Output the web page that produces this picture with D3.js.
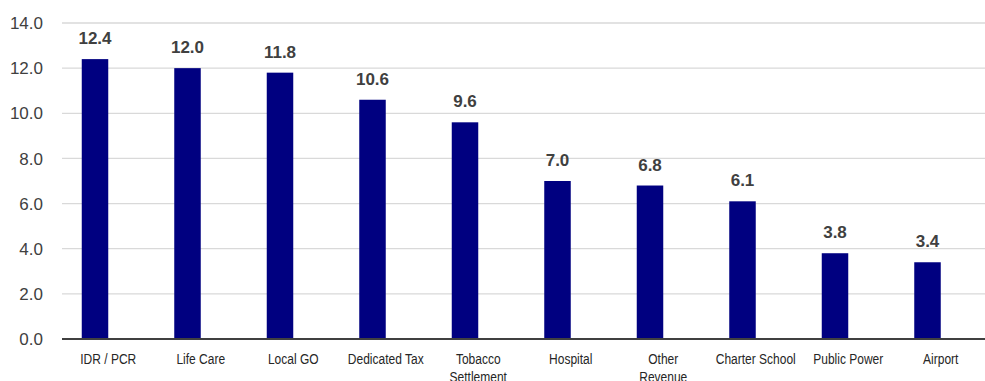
<!DOCTYPE html>
<meta charset="utf-8">
<title>bar chart</title>
<style>
body {
  margin: 0px;
  background: #fff;
}
.tick-label {
  font-family: "Liberation Sans", Arial, sans-serif;
  font-size: 17px;
  fill: #404040;
}
.cat-label {
  font-family: "Liberation Sans", Arial, sans-serif;
  font-size: 15px;
  fill: #262626;
}
.value-label {
  font-family: "Liberation Sans", Arial, sans-serif;
  font-size: 17px;
  font-weight: bold;
  fill: #404040;
}
</style>
<script src="https://d3js.org/d3.v7.min.js"></script>
<body>
<script>
var width = 985, height = 381;

// data
var categories = ["IDR / PCR", "Life Care", "Local GO", "Dedicated Tax", "Tobacco\nSettlement",
                  "Hospital", "Other\nRevenue", "Charter School", "Public Power", "Airport"];
var values = [12.4, 12.0, 11.8, 10.6, 9.6, 7.0, 6.8, 6.1, 3.8, 3.4];
var yTicks = [0, 2, 4, 6, 8, 10, 12, 14];

var plotLeft = 62, plotRight = 987, plotTop = 23, plotBottom = 339;
var barW = 26.5;

var svg = d3.select("body").append("svg")
    .attr("width", width)
    .attr("height", height);

var x = d3.scaleBand()
    .domain(categories)
    .range([plotLeft, plotRight])
    .padding(0);

var y = d3.scaleLinear()
    .domain([0, 14])
    .range([plotBottom, plotTop]);

// gridlines
svg.append("g").selectAll("line")
    .data(yTicks.filter(function(d) { return d > 0; }))
  .enter().append("line")
    .attr("x1", plotLeft)
    .attr("x2", width)
    .attr("y1", function(d) { return y(d); })
    .attr("y2", function(d) { return y(d); })
    .style("stroke", "#d9d9d9")
    .style("stroke-width", 1.3);

// y tick labels
svg.append("g").selectAll("text")
    .data(yTicks)
  .enter().append("text")
    .attr("class", "tick-label")
    .attr("x", 43)
    .attr("y", function(d) { return y(d); })
    .attr("dy", "0.36em")
    .attr("text-anchor", "end")
    .text(function(d) { return d3.format(".1f")(d); });

// bars (sit left of the category centre, like an excel cluster)
svg.append("g").selectAll("rect")
    .data(values)
  .enter().append("rect")
    .attr("x", function(d, i) { return x(categories[i]) + x.bandwidth() / 2 - barW; })
    .attr("y", function(d) { return y(d); })
    .attr("width", barW)
    .attr("height", function(d) { return plotBottom - y(d); })
    .style("fill", "#000080");

// value labels
svg.append("g").selectAll("text")
    .data(values)
  .enter().append("text")
    .attr("class", "value-label")
    .attr("x", function(d, i) { return x(categories[i]) + x.bandwidth() / 2 - barW / 2; })
    .attr("y", function(d) { return y(d) - 15; })
    .attr("text-anchor", "middle")
    .text(function(d) { return d3.format(".1f")(d); });

// baseline
svg.append("line")
    .attr("x1", plotLeft)
    .attr("x2", width)
    .attr("y1", plotBottom)
    .attr("y2", plotBottom)
    .style("stroke", "#404040")
    .style("stroke-width", 1.8);

// category labels, squeezed a bit to look like a narrow font
var cat = svg.append("g").selectAll("text")
    .data(categories)
  .enter().append("text")
    .attr("class", "cat-label")
    .attr("text-anchor", "middle")
    .attr("transform", function(d) {
      return "translate(" + (x(d) + x.bandwidth() / 2) + "," + (plotBottom + 25) + ") scale(0.8,1)";
    });

cat.selectAll("tspan")
    .data(function(d) { return d.split("\n"); })
  .enter().append("tspan")
    .attr("x", 0)
    .attr("dy", function(d, i) { return i ? 18.5 : 0; })
    .text(function(d) { return d; });
</script>
